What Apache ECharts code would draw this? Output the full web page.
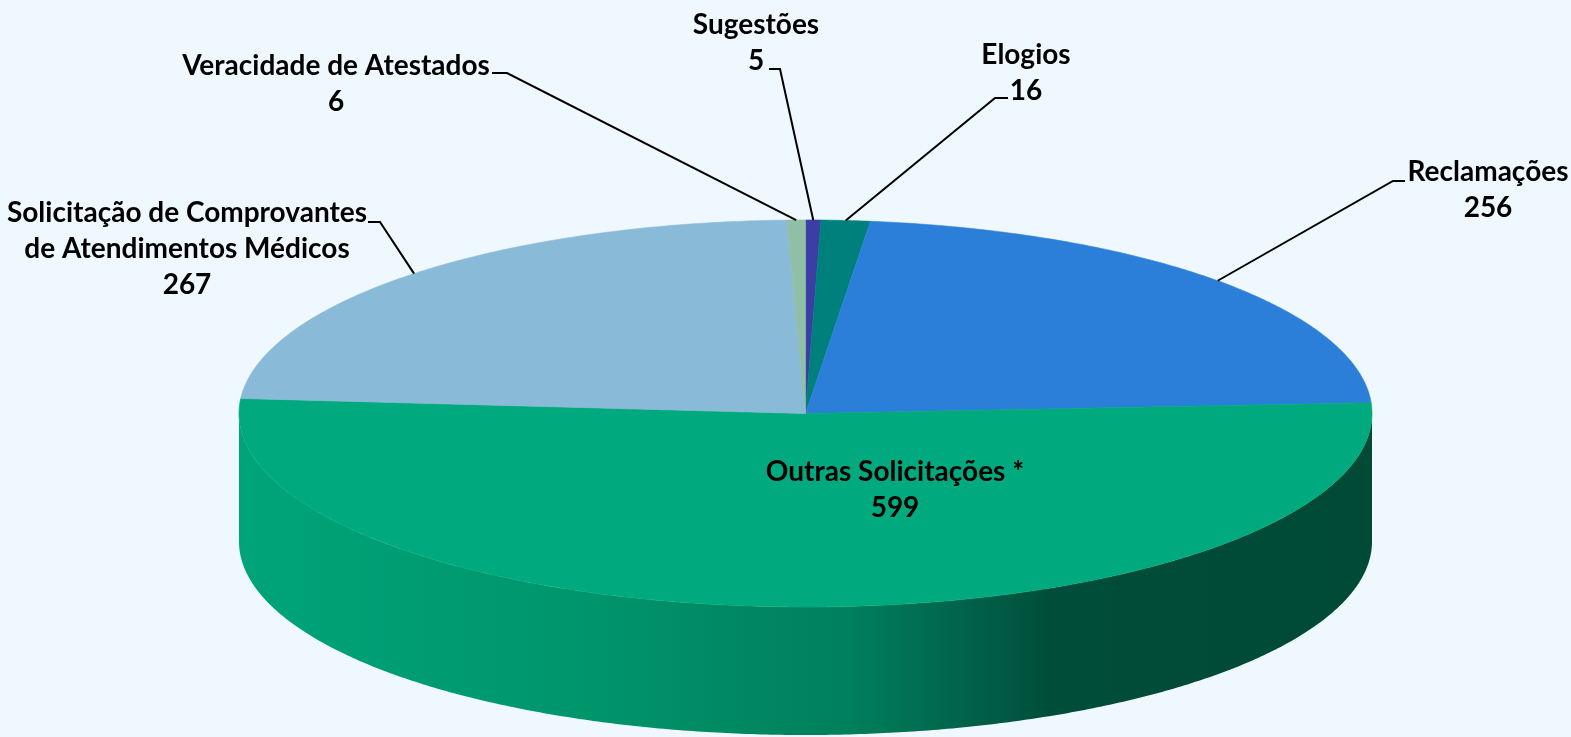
<!DOCTYPE html>
<html>
<head>
<meta charset="utf-8">
<script src="https://cdn.jsdelivr.net/npm/echarts@6/dist/echarts.min.js"></script>
<style>
html, body { margin: 0; padding: 0; background: #EEF8FE; }
#main { width: 1571px; height: 737px; }
</style>
</head>
<body>
<div id="main"></div>
<script>
// slices, clockwise from 12 o'clock
const categories = ['Sugestões', 'Elogios', 'Reclamações', 'Outras Solicitações *',
  'Solicitação de Comprovantes\nde Atendimentos Médicos', 'Veracidade de Atestados'];
const values = [5, 16, 256, 599, 267, 6];
const colors = ['#3A3EA5', '#00807C', '#2B7FD8', '#00AA7E', '#89BAD7', '#8FBFA6'];

// label block centres and leader starts [x, y, x where the short flat part ends]
const labelPos = [[756, 43], [1026, 73], [1488, 190], [895, 490], [187, 249], [336, 84]];
const leaders = [[769, 69, 780], [1008, 98, 995], [1405, 181, 1393], null, [368, 222, 380], [492, 73, 507]];

// the flat "3d" disc
const pie = { cx: 805.5, cy: 413.5, rx: 566.5, ry: 193.5, depth: 128 };
const sideStops = [
  { offset: 0, color: '#00A479' },
  { offset: 0.32, color: '#00946B' },
  { offset: 0.54, color: '#007F5C' },
  { offset: 0.72, color: '#004D39' },
  { offset: 1, color: '#004A36' }
];

const total = values.reduce((a, b) => a + b, 0);
const startAngles = [];
let acc = 0;
values.forEach(v => { startAngles.push(acc / total * 360); acc += v; });

// angle in degrees, clockwise from top
function pt(deg, dy) {
  const r = deg * Math.PI / 180;
  return [pie.cx + pie.rx * Math.sin(r), pie.cy - pie.ry * Math.cos(r) + (dy || 0)];
}
function arc(a, b, dy) {
  const pts = [];
  const n = Math.max(2, Math.ceil((b - a) / 0.5));
  for (let i = 0; i <= n; i++) pts.push(pt(a + (b - a) * i / n, dy));
  return pts;
}

function renderItem(params, api) {
  const i = params.dataIndex;
  const a = startAngles[i];
  const b = a + api.value(0) / total * 360;
  const children = [];

  // visible side wall (front half only)
  const wa = Math.max(a, 90), wb = Math.min(b, 270);
  if (wb > wa) {
    const top = arc(wa, wb, 0);
    const bottom = arc(wa, wb, pie.depth).reverse();
    children.push({
      type: 'polygon',
      shape: { points: top.concat(bottom) },
      style: {
        fill: { type: 'linear', x: pie.cx - pie.rx, y: 0, x2: pie.cx + pie.rx, y2: 0, global: true, colorStops: sideStops },
        stroke: null
      },
      z2: 1
    });
  }

  // top face
  children.push({
    type: 'polygon',
    shape: { points: [[pie.cx, pie.cy]].concat(arc(a, b, 0)) },
    style: { fill: colors[i], stroke: colors[i], lineWidth: 0.6 },
    z2: 2
  });

  // leader line
  const ld = leaders[i];
  if (ld) {
    const edge = pt((a + b) / 2, 0);
    children.push({
      type: 'polyline',
      shape: { points: [[ld[0], ld[1]], [ld[2], ld[1]], edge] },
      style: { stroke: '#000', lineWidth: 2, fill: null },
      z2: 5
    });
  }

  children.push({
    type: 'text',
    style: {
      text: categories[i] + '\n' + api.value(0),
      x: labelPos[i][0],
      y: labelPos[i][1],
      align: 'center',
      verticalAlign: 'middle',
      fontFamily: 'Lato',
      fontWeight: 'bold',
      fontSize: 28,
      lineHeight: 36,
      fill: '#000'
    },
    z2: 6
  });

  return { type: 'group', children: children };
}

const chart = echarts.init(document.getElementById('main'));
chart.setOption({
  backgroundColor: '#EEF8FE',
  animation: false,
  series: [{
    type: 'custom',
    coordinateSystem: 'none',
    silent: true,
    renderItem: renderItem,
    data: values.map(v => [v])
  }]
});
</script>
</body>
</html>
